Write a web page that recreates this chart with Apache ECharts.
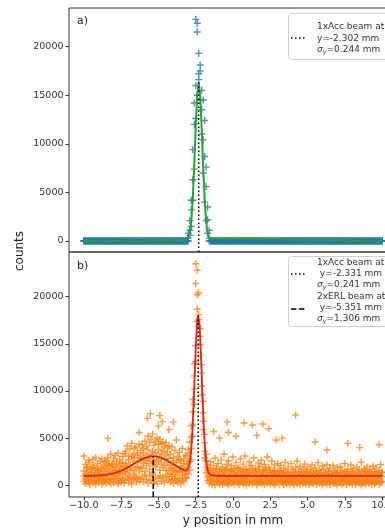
<!DOCTYPE html>
<html>
<head>
<meta charset="utf-8">
<script src="https://cdn.jsdelivr.net/npm/echarts@6/dist/echarts.min.js"></script>
<style>
  html, body { margin: 0; padding: 0; background: #fff; overflow: hidden; }
  #chart { width: 410px; height: 530px; }
</style>
</head>
<body>
<div id="chart"></div>
<script>
// Beam profile positions on the screen (mm), one entry per pixel row
const yPositionMm = [
  -10.0,-9.9,-9.8,-9.7,-9.6,-9.5,-9.4,-9.3,-9.2,-9.1,
  -9.0,-8.9,-8.8,-8.7,-8.6,-8.5,-8.4,-8.3,-8.2,-8.1,
  -8.0,-7.9,-7.8,-7.7,-7.6,-7.5,-7.4,-7.3,-7.2,-7.1,
  -7.0,-6.9,-6.8,-6.7,-6.6,-6.5,-6.4,-6.3,-6.2,-6.1,
  -6.0,-5.9,-5.8,-5.7,-5.6,-5.5,-5.4,-5.3,-5.2,-5.1,
  -5.0,-4.9,-4.8,-4.7,-4.6,-4.5,-4.4,-4.3,-4.2,-4.1,
  -4.0,-3.9,-3.8,-3.7,-3.6,-3.5,-3.4,-3.3,-3.2,-3.1,
  -3.0,-2.9,-2.8,-2.7,-2.6,-2.5,-2.4,-2.3,-2.2,-2.1,
  -2.0,-1.9,-1.8,-1.7,-1.6,-1.5,-1.4,-1.3,-1.2,-1.1,
  -1.0,-0.9,-0.8,-0.7,-0.6,-0.5,-0.4,-0.3,-0.2,-0.1,
  0.0,0.1,0.2,0.3,0.4,0.5,0.6,0.7,0.8,0.9,
  1.0,1.1,1.2,1.3,1.4,1.5,1.6,1.7,1.8,1.9,
  2.0,2.1,2.2,2.3,2.4,2.5,2.6,2.7,2.8,2.9,
  3.0,3.1,3.2,3.3,3.4,3.5,3.6,3.7,3.8,3.9,
  4.0,4.1,4.2,4.3,4.4,4.5,4.6,4.7,4.8,4.9,
  5.0,5.1,5.2,5.3,5.4,5.5,5.6,5.7,5.8,5.9,
  6.0,6.1,6.2,6.3,6.4,6.5,6.6,6.7,6.8,6.9,
  7.0,7.1,7.2,7.3,7.4,7.5,7.6,7.7,7.8,7.9,
  8.0,8.1,8.2,8.3,8.4,8.5,8.6,8.7,8.8,8.9,
  9.0,9.1,9.2,9.3,9.4,9.5,9.6,9.7,9.8,9.9,
  10.0
];

// a) 1xAcc beam: counts of three frames
const countsA1 = [
  0,0,0,0,0,0,0,0,0,0, 0,0,0,0,0,0,0,0,0,0, 0,0,0,0,0,0,0,0,0,0, 0,0,0,0,0,0,0,0,0,0,
  0,0,0,0,0,0,0,0,0,0, 0,0,0,0,0,0,0,0,0,0, 0,0,0,0,0,0,0,0,0,0,
  0,600,1500,4200,7400,12600,15000,16600,14500,11000,7000,4000,2100,800,0,
  0,0,0,0,0,0,0,0,0,0, 0,0,0,0,0,0,0,0,0,0, 0,0,0,0,0,0,0,0,0,0, 0,0,0,0,0,0,0,0,0,0,
  0,0,0,0,0,0,0,0,0,0, 0,0,0,0,0,0,0,0,0,0, 0,0,0,0,0,0,0,0,0,0, 0,0,0,0,0,0,0,0,0,0,
  0,0,0,0,0,0,0,0,0,0, 0,0,0,0,0,0,0,0,0,0, 0,0,0,0,0,0,0,0,0,0, 0,0,0,0,0,0
];
const countsA2 = [
  0,0,0,0,0,0,0,0,0,0, 0,0,0,0,0,0,0,0,0,0, 0,0,0,0,0,0,0,0,0,0, 0,0,0,0,0,0,0,0,0,0,
  0,0,0,0,0,0,0,0,0,0, 0,0,0,0,0,0,0,0,0,0, 0,0,0,0,0,0,0,0,0,0,
  300,1100,3200,6300,12000,16000,21500,17200,17500,13500,10400,8700,5600,2200,300,
  0,0,0,0,0,0,0,0,0,0, 0,0,0,0,0,0,0,0,0,0, 0,0,0,0,0,0,0,0,0,0, 0,0,0,0,0,0,0,0,0,0,
  0,0,0,0,0,0,0,0,0,0, 0,0,0,0,0,0,0,0,0,0, 0,0,0,0,0,0,0,0,0,0, 0,0,0,0,0,0,0,0,0,0,
  0,0,0,0,0,0,0,0,0,0, 0,0,0,0,0,0,0,0,0,0, 0,0,0,0,0,0,0,0,0,0, 0,0,0,0,0,0
];
const countsA3 = [
  0,0,0,0,0,0,0,0,0,0, 0,0,0,0,0,0,0,0,0,0, 0,0,0,0,0,0,0,0,0,0, 0,0,0,0,0,0,0,0,0,0,
  0,0,0,0,0,0,0,0,0,0, 0,0,0,0,0,0,0,0,0,0, 0,0,0,0,0,0,0,0,0,0,
  800,2100,4200,9400,14200,22800,22400,19300,18100,15500,14500,12400,7600,3500,1100,
  0,0,0,0,0,0,0,0,0,0, 0,0,0,0,0,0,0,0,0,0, 0,0,0,0,0,0,0,0,0,0, 0,0,0,0,0,0,0,0,0,0,
  0,0,0,0,0,0,0,0,0,0, 0,0,0,0,0,0,0,0,0,0, 0,0,0,0,0,0,0,0,0,0, 0,0,0,0,0,0,0,0,0,0,
  0,0,0,0,0,0,0,0,0,0, 0,0,0,0,0,0,0,0,0,0, 0,0,0,0,0,0,0,0,0,0, 0,0,0,0,0,0
];

// a) Gaussian fit of the 1xAcc beam
const fitAPos = [-10, -3.1, -3.0, -2.9, -2.8, -2.7, -2.6, -2.5, -2.4, -2.3, -2.2, -2.1, -2.0, -1.9, -1.8, -1.7, -1.6, -1.5, 10];
const fitACounts = [0, 77, 273, 807, 2028, 4305, 7730, 11730, 15040, 16300, 14935, 11570, 7575, 4190, 1960, 776, 259, 73, 0];
const centerA = -2.302, peakA = 16300;

// b) 1xAcc + 2xERL beams: counts of four frames
const countsB1 = [
  420,180,560,300,90,510,240,380,130,470,260,590,150,340,480,
  220,650,380,130,560,290,690,410,170,530,320,610,250,
  480,820,260,700,150,590,880,340,760,420,640,
  910,380,1100,620,240,980,510,1180,330,850,160,720,1050,430,900,280,760,1120,560,
  350,620,180,740,470,290,690,130,560,410,780,
  800,1200,1600,2700,5200,8600,13100,17400,17600,14900,10500,6800,3600,1900,900,
  210,450,90,360,20,480,270,140,400,60,
  330,490,180,20,420,250,380,110,460,300,
  70,350,440,160,290,10,470,230,390,120,
  310,480,40,260,410,170,340,80,450,200,
  370,130,490,240,30,320,410,
  150,440,280,60,380,200,490,110,330,250,
  20,410,170,360,90,470,230,300,140,420,
  50,380,260,190,450,100,340,220,480,30,
  290,400,130,350,70,460,240,180,390,10,
  310,440,120,270,480,60,370,210,330,150,
  420,80,290,490,190,40,360,250,130,450,
  230,350,70,410,170,300,460,100,280,380
];
const countsB2 = [
  980,720,1150,610,880,1050,540,930,1180,690,820,1100,760,1010,650,
  1240,880,1420,700,1310,1050,1480,920,1190,1360,780,1270,1450,
  1350,1720,980,1560,1890,1180,1640,870,1960,1420,1780,
  1850,2340,1460,2090,2560,1720,2280,1390,2470,1980,2190,2600,1620,2380,1900,2130,1540,2420,1760,
  1280,950,1560,1130,1420,760,1350,1610,1020,1480,1190,
  1500,1900,2500,3900,6400,10200,14800,18700,18100,15800,11900,7700,4500,2600,1600,
  680,920,540,1050,760,430,990,610,870,350,
  1080,720,480,940,590,1020,380,830,660,1100,
  510,900,740,420,1060,630,850,320,970,570,
  790,1030,460,700,950,380,880,610,1070,530,
  820,440,990,670,1040,560,910,
  620,850,410,930,540,780,330,960,690,470,
  870,560,740,380,990,610,820,450,700,910,
  350,780,520,950,640,430,870,580,730,400,
  960,670,500,840,360,920,600,790,460,980,
  550,710,390,880,620,470,940,530,760,340,
  890,650,420,810,570,990,480,700,380,860,
  590,450,930,680,370,820,540,760,440,900
];
const countsB3 = [
  1520,1240,1830,1090,1650,1380,1900,1170,1560,1720,1300,1480,1860,1150,1610,
  1780,2150,1420,1960,2280,1650,1890,2210,1530,2040,1720,2300,1870,
  2360,1980,2740,2150,3050,2480,2890,1920,3180,2600,2830,
  2980,3420,2650,3170,3760,2870,3300,3610,2720,3480,3050,3790,2900,3350,3640,2770,3200,3520,2860,
  2150,1760,2580,1930,2420,1580,2710,2040,1820,2330,1650,
  2200,2600,3400,5100,7800,11600,21400,20200,16900,16600,12800,8900,5400,3300,2200,
  1350,1720,1040,1560,1230,1810,960,1480,1690,1120,
  1590,1280,1760,880,1440,1650,1190,1540,1010,1780,
  1310,1620,920,1470,1700,1150,1380,1590,1060,1730,
  1260,1520,970,1660,1340,1090,1580,1210,1750,990,
  1430,1640,1100,1360,1570,1200,1490,
  1120,1380,860,1250,1470,980,1320,760,1190,1430,
  1050,1290,900,1410,1130,1350,820,1240,1480,970,
  1180,1390,880,1280,1060,1440,930,1210,1370,790,
  1150,1330,1010,1460,870,1230,1100,1400,950,1270,
  1080,1340,810,1190,1450,1020,1300,890,1160,1420,
  990,1260,840,1380,1110,1220,930,1470,1040,1310,
  860,1200,1390,970,1140,1330,800,1250,1090,1360
];
const countsB4 = [
  3100,2200,1950,2650,2400,1800,2750,2100,2950,2300,1700,2550,2850,2050,2450,
  2600,2950,2300,3300,2150,2800,3150,2500,3400,2700,2350,3050,3350,
  3600,4200,3100,3850,4450,3300,3950,4100,3450,4350,3700,
  4300,3900,4700,4150,5200,4550,4900,5450,4250,4650,5050,4400,4850,4350,4600,4100,4500,3950,4200,
  3300,4100,2900,3700,4800,3050,3500,2600,3900,2800,3200,
  3100,3800,4600,6300,9100,12900,23500,22800,20400,13800,9600,5900,2900,1300,500,
  1800,2500,1400,2100,2900,1700,2300,1300,2700,1950,
  3300,1600,2200,2600,1500,2050,3000,1750,2400,1350,
  1900,2800,1550,2250,3100,1700,1250,2500,2100,1600,
  2900,1800,1450,2350,2000,2650,1500,2200,1650,3000,
  1900,1300,2550,1550,2150,1200,2300,
  1600,2100,1250,1800,2450,1400,1950,1100,2300,1700,
  1350,1900,2550,1500,2000,1150,1750,2250,1400,1950,
  1050,1650,2150,1450,1850,1250,2400,1600,1300,2050,
  1700,1100,2200,1500,1800,1200,2100,1550,1400,1900,
  1000,2000,1600,1250,2300,1450,1700,1150,2150,1500,
  1800,1100,1950,1400,1600,2450,1250,1750,1500,1950,
  1350,1700,1100,2050,1450,1850,1200,1600,2200,1400
];
// b) isolated high readings (position mm, counts)
const spikePosB = [-8.4, -6.3, -5.75, -5.55, -5.0, -4.9, -4.75, -4.3, -4.0, -1.3, -0.9, -0.4, -0.3, 0.2, 0.75, 1.3, 1.6, 2.0, 2.4, 2.9, 3.3, 4.2, 5.5, 6.3, 7.7, 8.5, 9.8];
const spikeCountsB = [5000, 5600, 7100, 7600, 6300, 7400, 6750, 5900, 6700, 5700, 5000, 6700, 5600, 5200, 6600, 6400, 5300, 6500, 6000, 4800, 5000, 7450, 4600, 3750, 4450, 4000, 4300];

// b) Two-Gaussian fit (ERL + Acc) on a constant background
const fitBPos = [-10,-9.5,-9,-8.5,-8,-7.5,-7,-6.5,-6,-5.5,-5.351,-5,-4.5,-4,-3.5,-3.3,-3.2,-3.1,-3.0,-2.95,
  -2.9,-2.85,-2.8,-2.75,-2.7,-2.65,-2.6,-2.55,-2.5,-2.45,-2.4,-2.35,-2.331,-2.3,-2.25,-2.2,-2.15,-2.1,-2.05,-2.0,
  -1.95,-1.9,-1.85,-1.8,-1.75,-1.7,-1.65,-1.6,-1.5,-1.4,-1,0,5,10];
const fitBCounts = [1004,1014,1042,1115,1268,1542,1946,2426,2856,3086,3100,3025,2698,2230,1769,1617,1566,1578,1774,2012,
  2402,3000,3856,5019,6500,8284,10290,12395,14409,16140,17383,17998,18045,17898,17096,15696,13852,11777,9653,7661,
  5916,4482,3365,2548,1972,1594,1353,1207,1071,1032,1008,1000,1000,1000];
const centerAccB = -2.331, peakAccB = 18045;
const centerErlB = -5.351, peakErlB = 3100;

// axis ranges and ticks
const xRange = [-11, 11];
const xTicks = [-10, -7.5, -5, -2.5, 0, 2.5, 5, 7.5, 10];
const yRangeA = [-1130, 23970];
const yRangeB = [-1240, 24740];
const yTicks = [0, 5000, 10000, 15000, 20000];

function framesToPoints(frames) {
  const pts = [];
  frames.forEach(f => f.forEach((c, i) => pts.push([yPositionMm[i], c])));
  return pts;
}
const zip = (xs, ys) => xs.map((x, i) => [x, ys[i]]);

const pointsA = framesToPoints([countsA1, countsA2, countsA3]);
const pointsB = framesToPoints([countsB1, countsB2, countsB3, countsB4]).concat(zip(spikePosB, spikeCountsB));

const FONT = 'DejaVu Sans';
const TXT = '#333';
const plus = 'path://M4,0h2v4h4v2h-4v4h-2v-4h-4v-2h4z';

const fmtX = v => (v < 0 ? '\u2212' : '') + Math.abs(v).toFixed(1);

function yAxisFor(idx, range) {
  return {
    type: 'value', gridIndex: idx, min: range[0], max: range[1],
    axisLine: { show: false, onZero: false },
    splitLine: { show: false },
    axisTick: { show: true, length: 3.5, customValues: yTicks, lineStyle: { color: TXT, width: 1 } },
    axisLabel: { customValues: yTicks, formatter: v => String(Math.round(v)), fontSize: 9.5, fontFamily: FONT, color: TXT, margin: 5.5 }
  };
}

const chart = echarts.init(document.getElementById('chart'), null, { renderer: 'canvas' });

const legendText = (x, y, text) => ({
  type: 'text', x, y, z: 101,
  style: {
    text, fill: TXT, font: '9px "DejaVu Sans"', verticalAlign: 'middle', align: 'left',
    rich: {
      s: { fontFamily: FONT, fontSize: 9, fontStyle: 'italic', fill: TXT, lineHeight: 11 },
      b: { fontFamily: FONT, fontSize: 6.5, fontStyle: 'italic', fill: TXT, verticalAlign: 'bottom', lineHeight: 11, padding: [3, 0, 0, 0] },
      n: { fontFamily: FONT, fontSize: 9, fill: TXT, lineHeight: 11 }
    }
  }
});

chart.setOption({
  animation: false,
  backgroundColor: '#fff',
  grid: [
    { left: 69, top: 8, width: 328, height: 244, show: true, borderColor: '#333', borderWidth: 1 },
    { left: 69, top: 252, width: 328, height: 245, show: true, borderColor: '#333', borderWidth: 1 }
  ],
  xAxis: [
    { type: 'value', gridIndex: 0, min: xRange[0], max: xRange[1],
      axisLine: { show: false, onZero: false }, axisTick: { show: false }, axisLabel: { show: false }, splitLine: { show: false } },
    { type: 'value', gridIndex: 1, min: xRange[0], max: xRange[1],
      axisLine: { show: false, onZero: false }, splitLine: { show: false },
      axisTick: { show: true, length: 3.5, customValues: xTicks, lineStyle: { color: TXT, width: 1 } },
      axisLabel: { customValues: xTicks, formatter: fmtX, fontSize: 9.5, fontFamily: FONT, color: TXT, margin: 4 } }
  ],
  yAxis: [yAxisFor(0, yRangeA), yAxisFor(1, yRangeB)],
  series: [
    { type: 'scatter', xAxisIndex: 0, yAxisIndex: 0, data: pointsA, symbol: plus, symbolSize: 7,
      itemStyle: { color: '#1f77b4' }, z: 2 },
    { type: 'line', xAxisIndex: 0, yAxisIndex: 0, data: zip(fitAPos, fitACounts), showSymbol: false,
      lineStyle: { color: '#2ca02c', width: 2 }, z: 3 },
    { type: 'line', xAxisIndex: 0, yAxisIndex: 0, data: [[centerA, yRangeA[0]], [centerA, peakA]], showSymbol: false,
      lineStyle: { color: '#000', width: 1.5, type: [1.5, 2.5] }, z: 4 },

    { type: 'scatter', xAxisIndex: 1, yAxisIndex: 1, data: pointsB, symbol: plus, symbolSize: 7,
      itemStyle: { color: '#ff7f0e' }, z: 2 },
    { type: 'line', xAxisIndex: 1, yAxisIndex: 1, data: zip(fitBPos, fitBCounts), showSymbol: false,
      lineStyle: { color: '#d62728', width: 1.8 }, z: 3 },
    { type: 'line', xAxisIndex: 1, yAxisIndex: 1, data: [[centerAccB, yRangeB[0]], [centerAccB, peakAccB]], showSymbol: false,
      lineStyle: { color: '#000', width: 1.5, type: [1.5, 2.5] }, z: 4 },
    { type: 'line', xAxisIndex: 1, yAxisIndex: 1, data: [[centerErlB, yRangeB[0]], [centerErlB, peakErlB]], showSymbol: false,
      lineStyle: { color: '#000', width: 1.5, type: [5.5, 2.4] }, z: 4 }
  ],
  graphic: [
    // panel tags
    { type: 'text', x: 77, y: 21, style: { text: 'a)', font: '11px "DejaVu Sans"', fill: '#222', verticalAlign: 'middle' } },
    { type: 'text', x: 77, y: 266, style: { text: 'b)', font: '11px "DejaVu Sans"', fill: '#222', verticalAlign: 'middle' } },
    // axis titles
    { type: 'text', x: 233, y: 521, style: { text: 'y position in mm', font: '12px "DejaVu Sans"', fill: '#222', align: 'center', verticalAlign: 'middle' } },
    { type: 'text', x: 20, y: 251, rotation: Math.PI / 2, style: { text: 'counts', font: '12px "DejaVu Sans"', fill: '#222', align: 'center', verticalAlign: 'middle' } },

    // legend a)
    { type: 'rect', z: 100, shape: { x: 288.5, y: 13.5, width: 130, height: 46, r: 3 },
      style: { fill: 'rgba(255,255,255,0.85)', stroke: '#cfcfcf', lineWidth: 1 } },
    { type: 'line', z: 101, shape: { x1: 291, y1: 38, x2: 306, y2: 38 },
      style: { stroke: '#000', lineWidth: 1.5, lineDash: [1.5, 2.5] } },
    legendText(317, 27, '1xAcc beam at'),
    legendText(317, 38.5, 'y=-2.302 mm'),
    legendText(317, 50, '{s|σ}{b|y}{n|=0.244 mm}'),

    // legend b)
    { type: 'rect', z: 100, shape: { x: 288.5, y: 256.5, width: 130, height: 70, r: 3 },
      style: { fill: 'rgba(255,255,255,0.85)', stroke: '#cfcfcf', lineWidth: 1 } },
    { type: 'line', z: 101, shape: { x1: 291, y1: 274, x2: 306, y2: 274 },
      style: { stroke: '#000', lineWidth: 1.5, lineDash: [1.5, 2.5] } },
    { type: 'line', z: 101, shape: { x1: 291, y1: 309, x2: 306, y2: 309 },
      style: { stroke: '#000', lineWidth: 1.5, lineDash: [5.5, 2.4] } },
    legendText(317, 263, '1xAcc beam at'),
    legendText(317, 274, ' y=-2.331 mm'),
    legendText(317, 285, '{s|σ}{b|y}{n|=0.241 mm}'),
    legendText(317, 297, '2xERL beam at'),
    legendText(317, 308, ' y=-5.351 mm'),
    legendText(317, 319, '{s|σ}{b|y}{n|=1.306 mm}')
  ]
});
</script>
</body>
</html>
